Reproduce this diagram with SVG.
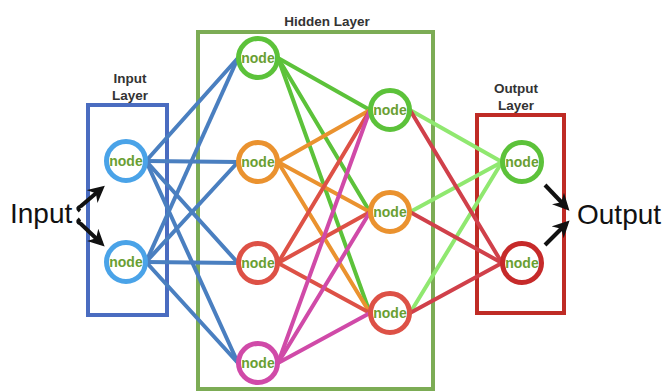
<svg xmlns="http://www.w3.org/2000/svg" width="667" height="392" viewBox="0 0 667 392">
  <defs>
    <marker id="arrowhead" viewBox="0 0 10 10" refX="7" refY="5" markerWidth="4.2" markerHeight="4.2" orient="auto">
      <path d="M0,0 L10,5 L0,10 L3,5 Z" fill="#111"/>
    </marker>
  </defs>
  <style>
    .box { fill: none; stroke-width: 4; }
    .layer-title { font-family: "Liberation Sans", Arial, sans-serif; font-weight: bold; font-size: 13.5px; fill: #333; text-anchor: middle; }
    .io-text { font-family: "Liberation Sans", Arial, sans-serif; font-size: 28px; fill: #111; }
    .ring { fill: #fff; stroke-width: 5; }
    .node-label { font-family: "Liberation Sans", Arial, sans-serif; font-weight: bold; font-size: 14px; fill: #6a9f32; text-anchor: middle; }
    .edges line { stroke-width: 4; stroke-linecap: round; }
    .flow { fill: none; stroke: #111; stroke-width: 4; marker-end: url(#arrowhead); }
  </style>

  <rect width="667" height="392" fill="#fff"/>

  <!-- layer frames -->
  <rect class="box" x="88" y="105" width="79" height="210" stroke="#4a6cc0"/>
  <rect class="box" x="198" y="32" width="235" height="357" stroke="#7cac55"/>
  <rect class="box" x="477" y="115" width="87" height="198" stroke="#bf2b25"/>

  <!-- layer titles -->
  <text class="layer-title" x="130" y="83">Input</text>
  <text class="layer-title" x="130" y="100">Layer</text>
  <text class="layer-title" x="327" y="26">Hidden Layer</text>
  <text class="layer-title" x="516" y="93">Output</text>
  <text class="layer-title" x="516" y="110">Layer</text>

  <!-- connectors -->
  <g id="connectors" class="edges">
    <!-- input to hidden 1 -->
    <g stroke="#4a7fc0">
      <line x1="146" y1="161" x2="238" y2="58"/>
      <line x1="146" y1="161" x2="238" y2="162"/>
      <line x1="146" y1="161" x2="238" y2="263"/>
      <line x1="146" y1="161" x2="238" y2="363"/>
      <line x1="146" y1="262" x2="238" y2="58"/>
      <line x1="146" y1="262" x2="238" y2="162"/>
      <line x1="146" y1="262" x2="238" y2="263"/>
      <line x1="146" y1="262" x2="238" y2="363"/>
    </g>
    <!-- hidden 1 to hidden 2 -->
    <g stroke="#5cc23a">
      <line x1="278" y1="58" x2="370" y2="110"/>
      <line x1="278" y1="58" x2="370" y2="212"/>
      <line x1="278" y1="58" x2="370" y2="313"/>
    </g>
    <g stroke="#ea922f">
      <line x1="278" y1="162" x2="370" y2="110"/>
      <line x1="278" y1="162" x2="370" y2="212"/>
      <line x1="278" y1="162" x2="370" y2="313"/>
    </g>
    <g stroke="#dd5146">
      <line x1="278" y1="263" x2="370" y2="110"/>
      <line x1="278" y1="263" x2="370" y2="212"/>
      <line x1="278" y1="263" x2="370" y2="313"/>
    </g>
    <g stroke="#d04aa8">
      <line x1="278" y1="363" x2="370" y2="110"/>
      <line x1="278" y1="363" x2="370" y2="212"/>
      <line x1="278" y1="363" x2="370" y2="313"/>
    </g>
    <!-- hidden 2 to output -->
    <g stroke="#90e870">
      <line x1="410" y1="110" x2="502" y2="162"/>
      <line x1="410" y1="212" x2="502" y2="162"/>
      <line x1="410" y1="313" x2="502" y2="162"/>
    </g>
    <g stroke="#d0404a">
      <line x1="410" y1="110" x2="502" y2="263"/>
      <line x1="410" y1="212" x2="502" y2="263"/>
      <line x1="410" y1="313" x2="502" y2="263"/>
    </g>
    <!-- signal arrows -->
    <path class="flow" d="M80,211 q-4,-3 1,-5 L101,189"/>
    <path class="flow" d="M80,219 q-4,3 1,5 L101,243"/>
    <path class="flow" d="M545,185 L566,207"/>
    <path class="flow" d="M545,245 L566,224"/>
  </g>

  <!-- input layer nodes -->
  <g id="in1"><circle class="ring" cx="126" cy="161" r="19.5" stroke="#4aa3e8"/><text class="node-label" x="126" y="166">node</text></g>
  <g id="in2"><circle class="ring" cx="126" cy="262" r="19.5" stroke="#4aa3e8"/><text class="node-label" x="126" y="267">node</text></g>

  <!-- hidden layer, first column -->
  <g id="h1a"><circle class="ring" cx="258" cy="58" r="19.5" stroke="#5cc23a"/><text class="node-label" x="258" y="63">node</text></g>
  <g id="h1b"><circle class="ring" cx="258" cy="162" r="19.5" stroke="#ea922f"/><text class="node-label" x="258" y="167">node</text></g>
  <g id="h1c"><circle class="ring" cx="258" cy="263" r="19.5" stroke="#dd5146"/><text class="node-label" x="258" y="268">node</text></g>
  <g id="h1d"><circle class="ring" cx="258" cy="363" r="19.5" stroke="#d04aa8"/><text class="node-label" x="258" y="368">node</text></g>

  <!-- hidden layer, second column -->
  <g id="h2a"><circle class="ring" cx="390" cy="110" r="19.5" stroke="#5cc23a"/><text class="node-label" x="390" y="115">node</text></g>
  <g id="h2b"><circle class="ring" cx="390" cy="212" r="19.5" stroke="#ea922f"/><text class="node-label" x="390" y="217">node</text></g>
  <g id="h2c"><circle class="ring" cx="390" cy="313" r="19.5" stroke="#dd5146"/><text class="node-label" x="390" y="318">node</text></g>

  <!-- output layer nodes -->
  <g id="out1"><circle class="ring" cx="522" cy="162" r="19.5" stroke="#5cc23a"/><text class="node-label" x="522" y="167">node</text></g>
  <g id="out2"><circle class="ring" cx="522" cy="263" r="19.5" stroke="#c62a2a"/><text class="node-label" x="522" y="268">node</text></g>

  <!-- network input / output -->
  <text class="io-text" x="10" y="223">Input</text>
  <text class="io-text" x="577" y="224">Output</text>
</svg>
